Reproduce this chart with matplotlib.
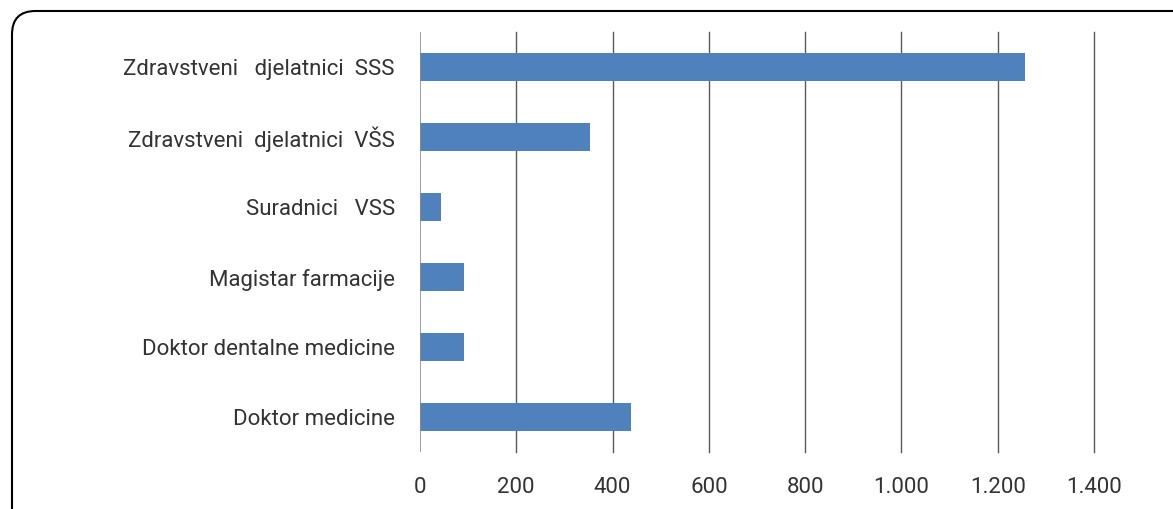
import matplotlib.pyplot as plt
from matplotlib.patches import FancyBboxPatch
from matplotlib.ticker import FuncFormatter

plt.rcParams['font.family'] = ['Roboto', 'DejaVu Sans']

# podaci (odozdo prema gore)
kategorije = ["Doktor medicine", "Doktor dentalne medicine", "Magistar farmacije",
              "Suradnici   VSS", "Zdravstveni  djelatnici  VŠS", "Zdravstveni   djelatnici  SSS"]
vrijednosti = [438, 91, 91, 44, 353, 1256]
x_tickovi = [0, 200, 400, 600, 800, 1000, 1200, 1400]

fig = plt.figure(figsize=(11.73, 5.09), dpi=100)
ax = fig.add_axes([0.358, 0.112, 0.5747, 0.825])

ax.barh(range(len(kategorije)), vrijednosti, height=0.4, color="#4F81BD", zorder=3)
ax.set_yticks(range(len(kategorije)))
ax.set_yticklabels(kategorije, fontsize=16, color="#333333")
ax.set_xticks(x_tickovi)
ax.xaxis.set_major_formatter(FuncFormatter(lambda v, p: f"{int(v):,}".replace(",", ".")))
ax.tick_params(axis="x", labelsize=16, colors="#333333", length=0, pad=18)
ax.tick_params(axis="y", length=0, pad=18)
ax.set_xlim(0, 1400)
ax.set_ylim(-0.5, len(kategorije) - 0.5)
for xt in x_tickovi[1:]:
    ax.axvline(xt, color="#595959", linewidth=1, zorder=0, clip_on=False)
for s in ax.spines.values():
    s.set_visible(False)
ax.axvline(0, color="#8c8c8c", linewidth=1.2, zorder=4)

# zaobljeni okvir
okvir = FancyBboxPatch((12 / 1173, -0.1), 1.1, 1 - 11 / 509 + 0.1,
                       boxstyle="round,pad=0,rounding_size=0.02",
                       transform=fig.transFigure, fill=False,
                       edgecolor="black", linewidth=1.5, mutation_aspect=1173 / 509)
fig.patches.append(okvir)

fig.savefig("out.png", dpi=100)
